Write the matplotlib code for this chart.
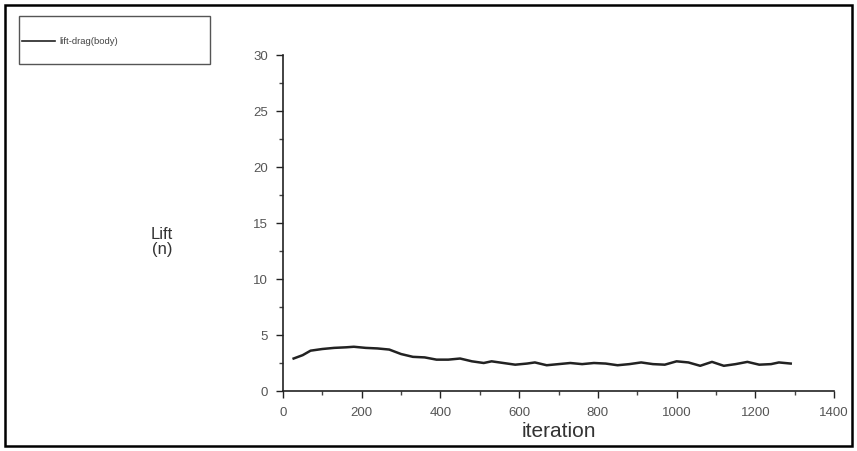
import matplotlib
matplotlib.use("Agg")
import matplotlib.pyplot as plt
from matplotlib.patches import Rectangle
from matplotlib.lines import Line2D
from matplotlib.ticker import MultipleLocator

plt.rcParams['font.family'] = ['Liberation Sans', 'DejaVu Sans']

# lift-drag(body) history
iteration = [27, 50, 70, 100, 130, 160, 180, 210, 240, 270, 300, 330, 360, 390,
             420, 450, 480, 510, 530, 560, 590, 620, 640, 670, 700, 730, 760,
             790, 820, 850, 880, 910, 940, 970, 1000, 1030, 1060, 1090, 1120,
             1150, 1180, 1210, 1240, 1260, 1290]
lift = [2.9, 3.2, 3.6, 3.75, 3.85, 3.9, 3.95, 3.85, 3.8, 3.7, 3.3, 3.05, 3.0, 2.8,
        2.8, 2.9, 2.65, 2.5, 2.65, 2.5, 2.35, 2.45, 2.55, 2.3, 2.4, 2.5, 2.4,
        2.5, 2.45, 2.3, 2.4, 2.55, 2.4, 2.35, 2.65, 2.55, 2.25, 2.6, 2.25,
        2.4, 2.6, 2.35, 2.4, 2.55, 2.45]
series_name = "lift-drag(body)"
x_ticks = [0, 200, 400, 600, 800, 1000, 1200, 1400]
y_ticks = [0, 5, 10, 15, 20, 25, 30]

W, H = 857, 452
fig = plt.figure(figsize=(W / 100, H / 100), dpi=100)
ax = fig.add_axes([283 / W, 1 - 392 / H, (834 - 283) / W, (392 - 56) / H])

ax.plot(iteration, lift, color='#222222', lw=1.8)

ax.set_xlim(0, 1400)
ax.set_ylim(0, 30)
ax.set_xticks(x_ticks)
ax.set_yticks(y_ticks)
ax.xaxis.set_minor_locator(MultipleLocator(100))
ax.yaxis.set_minor_locator(MultipleLocator(2.5))
for s in ['top', 'right']:
    ax.spines[s].set_visible(False)
for s in ['left', 'bottom']:
    ax.spines[s].set_color('#222222')
    ax.spines[s].set_linewidth(1.2)
ax.tick_params(which='major', length=5, width=1, color='#222222',
               labelsize=9.5, labelcolor='#555555', pad=6)
ax.tick_params(which='minor', length=3, width=1, color='#444444')

ax.set_xlabel("iteration", fontsize=15, color='#333333', labelpad=2)
fig.text(162 / W, 1 - 242 / H, "Lift\n(n)", ha='center', va='center',
         fontsize=12, color='#333333', linespacing=1.0)

# legend box
fig.add_artist(Rectangle((19 / W, 1 - 65 / H), (210 - 19) / W, (65 - 17) / H,
                         transform=fig.transFigure, fill=False,
                         edgecolor='#555555', lw=1.0))
fig.add_artist(Line2D([22 / W, 55 / W], [1 - 42 / H, 1 - 42 / H],
                      transform=fig.transFigure, color='#222222', lw=1.2))
fig.text(59 / W, 1 - 42 / H, series_name, fontsize=6.8, color='#444444',
         va='center', ha='left')

# outer frame
fig.add_artist(Rectangle((5 / W, 5 / H), (W - 10) / W, (H - 11) / H,
                         transform=fig.transFigure, fill=False,
                         edgecolor='black', lw=1.8))

fig.savefig("out.png", dpi=100)
